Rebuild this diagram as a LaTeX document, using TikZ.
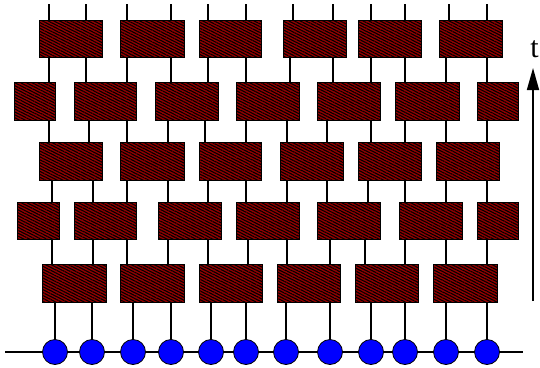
\documentclass[tikz,border=0pt]{standalone}
\usepackage{fontspec}
\setmainfont{Liberation Serif}
\usetikzlibrary{patterns.meta,arrows.meta}
\definecolor{boxred}{RGB}{150,0,0}
\begin{document}
\begin{tikzpicture}[x=1pt,y=-1pt,
  box/.style={draw=black, line width=0.8pt, preaction={fill=boxred},
    pattern={Lines[angle=-27,distance=2.6pt,line width=1.1pt]}, pattern color=black,
    inner sep=0pt, outer sep=0pt},
  leg/.style={draw=black, line width=1.2pt},
  site/.style={circle, draw=black, line width=0.8pt, fill=blue, minimum size=25pt, inner sep=0pt, outer sep=0pt},
  chain/.style={draw=black, line width=2pt},
  timearrow/.style={draw=black, line width=1.6pt, -{Triangle[length=22pt,width=12pt]}}]
\useasboundingbox (0,0) rectangle (540,367);
% boxes
\foreach \a/\b [count=\i] in {39/102,120/184,199/261,283/346,358/421,439/502}
  \node[box, minimum width={(\b-\a)*1pt}, minimum height=37pt] (r1b\i) at ({(\a+\b)/2},38.5) {};
\foreach \a/\b [count=\i] in {14/55,74/136,155/218,236/299,317/380,395/459,477/518}
  \node[box, minimum width={(\b-\a)*1pt}, minimum height=38pt] (r2b\i) at ({(\a+\b)/2},101) {};
\foreach \a/\b [count=\i] in {39/102,120/184,199/261,280/343,358/421,436/499}
  \node[box, minimum width={(\b-\a)*1pt}, minimum height=38pt] (r3b\i) at ({(\a+\b)/2},161) {};
\foreach \a/\b [count=\i] in {17/59,74/136,158/221,236/299,317/380,399/462,477/518}
  \node[box, minimum width={(\b-\a)*1pt}, minimum height=37pt] (r4b\i) at ({(\a+\b)/2},220.5) {};
\foreach \a/\b [count=\i] in {42/106,120/184,199/262,277/340,355/418,433/497}
  \node[box, minimum width={(\b-\a)*1pt}, minimum height=38pt] (r5b\i) at ({(\a+\b)/2},283) {};
% chain and sites
\coordinate (chainL) at (5,352);
\coordinate (chainR) at (523,352);
\draw[chain] (chainL) -- (chainR);
\foreach \x [count=\j] in {55,92,133,171,211,246,286,330,371,405,446,487}
  \node[site] (c\j) at (\x,352) {};
% top legs
\foreach \x/\u [count=\k] in {49/1,86/1,127/2,171/2,208/3,246/3,293/4,333/4,371/5,405/5,449/6,487/6} {
  \coordinate (top\k) at (\x,4);
  \draw[leg] (top\k) -- (r1b\u.north -| top\k);
}
% gaps
\foreach \x/\u/\l in {49/1/1,86/1/2,127/2/2,171/2/3,208/3/3,246/3/4,290/4/4,333/4/5,371/5/5,405/5/6,446/6/6,487/6/7}
  \draw[leg] (r1b\u.south -| \x,0) -- (r2b\l.north -| \x,0);
\foreach \x/\u/\l in {49/1/1,89/2/1,127/2/2,168/3/2,205/3/3,246/4/3,287/4/4,327/5/4,371/5/5,405/6/5,446/6/6,487/7/6}
  \draw[leg] (r2b\u.south -| \x,0) -- (r3b\l.north -| \x,0);
\foreach \x/\u/\l in {52/1/1,93/1/2,127/2/2,168/2/3,208/3/3,246/3/4,287/4/4,327/4/5,368/5/5,405/5/6,446/6/6,487/6/7}
  \draw[leg] (r3b\u.south -| \x,0) -- (r4b\l.north -| \x,0);
\foreach \x/\u/\l in {52/1/1,93/2/1,127/2/2,168/3/2,208/3/3,248/4/3,287/4/4,330/5/4,365/5/5,405/6/5,446/6/6,487/7/6}
  \draw[leg] (r4b\u.south -| \x,0) -- (r5b\l.north -| \x,0);
\foreach \u/\l in {1/1,1/2,2/3,2/4,3/5,3/6,4/7,4/8,5/9,5/10,6/11,6/12}
  \draw[leg] (r5b\u.south -| c\l) -- (c\l.north);
% time arrow
\coordinate (tbot) at (533,301);
\coordinate (ttop) at (533,68);
\draw[timearrow] (tbot) -- (ttop);
\node[font=\fontsize{30}{30}\selectfont, inner sep=0pt, anchor=base] (tlabel) at (534.5,57) {t};
\end{tikzpicture}
\end{document}
